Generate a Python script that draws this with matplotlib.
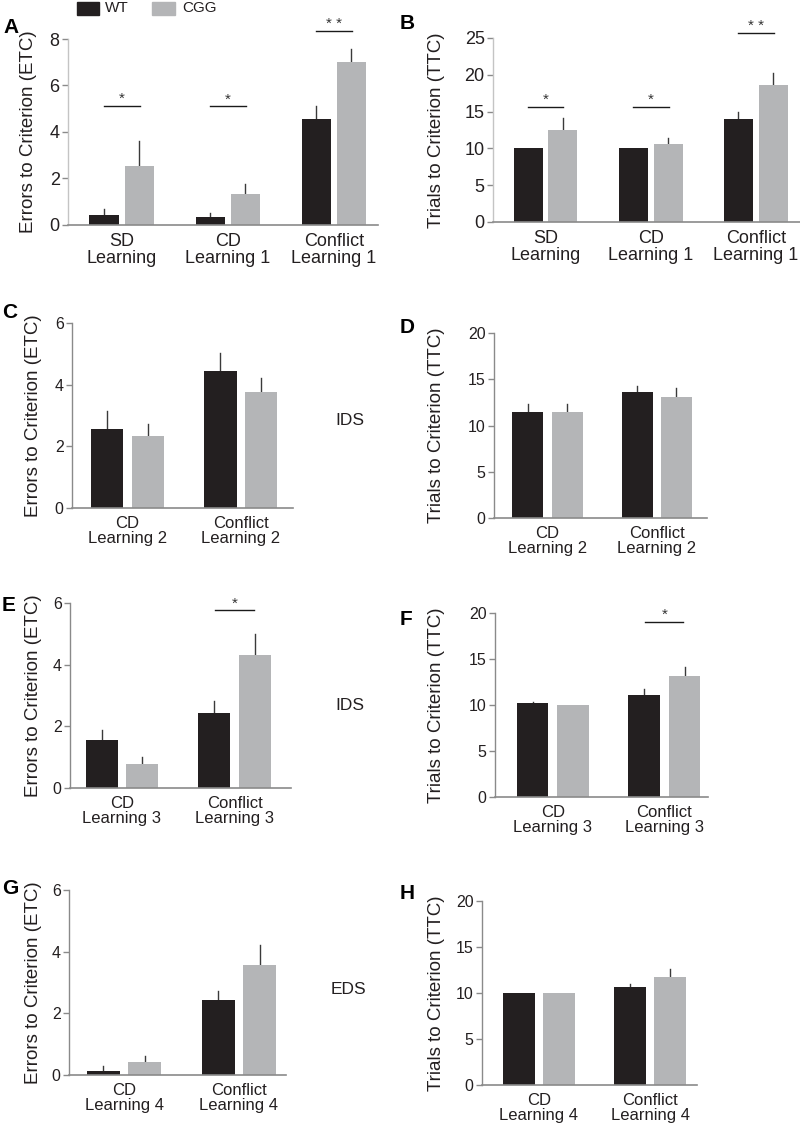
import matplotlib
matplotlib.use("Agg")
import matplotlib.pyplot as plt
import numpy as np
from matplotlib.patches import Rectangle

plt.rcParams["font.family"] = ["Liberation Sans", "DejaVu Sans"]

WT_COLOR = "#231f20"
CGG_COLOR = "#b4b5b7"
AXIS_COLOR = "#8a8a8a"
TEXT_COLOR = "#231f20"

# --- data ------------------------------------------------------------------
cats_ab = ["SD\nLearning", "CD\nLearning 1", "Conflict\nLearning 1"]
cats_cd = ["CD\nLearning 2", "Conflict\nLearning 2"]
cats_ef = ["CD\nLearning 3", "Conflict\nLearning 3"]
cats_gh = ["CD\nLearning 4", "Conflict\nLearning 4"]

a_wt = [0.43, 0.33, 4.55]
a_wt_err = [0.25, 0.17, 0.55]
a_cgg = [2.54, 1.34, 7.0]
a_cgg_err = [1.06, 0.43, 0.57]

b_wt = [10.0, 10.0, 14.0]
b_wt_err = [0.0, 0.0, 1.0]
b_cgg = [12.5, 10.6, 18.6]
b_cgg_err = [1.6, 0.8, 1.7]

c_wt = [2.55, 4.45]
c_wt_err = [0.61, 0.58]
c_cgg = [2.34, 3.77]
c_cgg_err = [0.39, 0.45]

d_wt = [11.5, 13.6]
d_wt_err = [0.86, 0.7]
d_cgg = [11.5, 13.08]
d_cgg_err = [0.86, 1.0]

e_wt = [1.55, 2.44]
e_wt_err = [0.34, 0.38]
e_cgg = [0.77, 4.32]
e_cgg_err = [0.23, 0.67]

f_wt = [10.18, 11.08]
f_wt_err = [0.18, 0.62]
f_cgg = [10.0, 13.14]
f_cgg_err = [0.0, 1.0]

g_wt = [0.14, 2.42]
g_wt_err = [0.14, 0.32]
g_cgg = [0.42, 3.57]
g_cgg_err = [0.21, 0.66]

h_wt = [10.0, 10.6]
h_wt_err = [0.0, 0.37]
h_cgg = [10.0, 11.78]
h_cgg_err = [0.0, 0.8]

# (group index, label, y of the bar)
a_sig = [(0, "*", 5.13), (1, "*", 5.1), (2, "* *", 8.36)]
b_sig = [(0, "*", 15.66), (1, "*", 15.6), (2, "* *", 25.7)]
e_sig = [(1, "*", 5.76)]
f_sig = [(1, "*", 19.06)]

ETC = "Errors to Criterion (ETC)"
TTC = "Trials to Criterion (TTC)"

W, H = 800, 1131
fig = plt.figure(figsize=(W / 100, H / 100), dpi=100)


def px_axes(left, top, right, bottom):
    return fig.add_axes([left / W, 1 - bottom / H, (right - left) / W, (bottom - top) / H])


def panel(box, cats, wt, wt_err, cgg, cgg_err, ymax, yticks, ylabel, label_px,
          letter, letter_xy, sig=(), xlim=(-0.5, 1.45), big=False):
    ax = px_axes(*box)
    x = np.arange(len(cats))
    bw = 0.275 if big else 0.285
    off = 0.165 if big else 0.18
    ax.bar(x - off, wt, bw, color=WT_COLOR, zorder=2)
    ax.bar(x + off, cgg, bw, color=CGG_COLOR, zorder=2)
    for xs, vals, errs in ((x - off, wt, wt_err), (x + off, cgg, cgg_err)):
        for xi, v, e in zip(xs, vals, errs):
            if e > 0:
                ax.plot([xi, xi], [v, v + e], color="#3a3a3a", lw=1.0, zorder=1)
    ax.set_xlim(*xlim)
    ax.set_ylim(0, ymax)
    ax.set_yticks(yticks)
    ax.set_xticks(x)
    fs_tick = 13 if big else 11.5
    fs_cat = 13 if big else 12
    ax.set_xticklabels(cats, fontsize=fs_cat, color=TEXT_COLOR, linespacing=1.0)
    ax.tick_params(axis="x", length=0, pad=6)
    ax.tick_params(axis="y", direction="out", length=4, width=1, color=AXIS_COLOR,
                   labelsize=fs_tick, labelcolor=TEXT_COLOR, pad=2)
    for s in ("top", "right"):
        ax.spines[s].set_visible(False)
    ax.spines["left"].set_color("#c4c4c4" if big else AXIS_COLOR)
    ax.spines["left"].set_linewidth(1.0)
    ax.spines["bottom"].set_color(AXIS_COLOR)
    ax.spines["bottom"].set_linewidth(1.2)
    ax.set_ylabel(ylabel, fontsize=13.5, color=TEXT_COLOR)
    ax.yaxis.set_label_coords((label_px - box[0]) / (box[2] - box[0]), 0.5)
    for gi, txt, yv in sig:
        ax.plot([gi - 0.17, gi + 0.17], [yv, yv], color="#1a1a1a", lw=1.0, clip_on=False)
        ax.annotate(txt, (gi, yv), xytext=(0, 0), textcoords="offset points",
                    ha="center", va="bottom", fontsize=11, color="#333333",
                    annotation_clip=False)
    fig.text(letter_xy[0] / W, 1 - letter_xy[1] / H, letter, fontsize=15,
             fontweight="bold", ha="left", va="top", color="black")
    return ax


panel((68, 39, 378, 225), cats_ab, a_wt, a_wt_err, a_cgg, a_cgg_err, 8,
      [0, 2, 4, 6, 8], ETC, 37, "A", (3, 18), a_sig, xlim=(-0.505, 2.415),
      big=True)
panel((493, 38, 800, 222), cats_ab, b_wt, b_wt_err, b_cgg, b_cgg_err, 25,
      [0, 5, 10, 15, 20, 25], TTC, 445, "B", (400, 14), b_sig,
      xlim=(-0.5, 2.42), big=True)
panel((72, 323, 293, 508), cats_cd, c_wt, c_wt_err, c_cgg, c_cgg_err, 6,
      [0, 2, 4, 6], ETC, 42, "C", (2, 303), xlim=(-0.49, 1.46))
panel((494, 333, 707, 518), cats_cd, d_wt, d_wt_err, d_cgg, d_cgg_err, 20,
      [0, 5, 10, 15, 20], TTC, 445, "D", (400, 318), xlim=(-0.49, 1.46))
panel((70, 603, 291, 788), cats_ef, e_wt, e_wt_err, e_cgg, e_cgg_err, 6,
      [0, 2, 4, 6], ETC, 42, "E", (2, 596), e_sig, xlim=(-0.46, 1.5))
panel((495, 613, 708, 797), cats_ef, f_wt, f_wt_err, f_cgg, f_cgg_err, 20,
      [0, 5, 10, 15, 20], TTC, 445, "F", (400, 610), f_sig, xlim=(-0.516, 1.39))
panel((69, 890, 286, 1075), cats_gh, g_wt, g_wt_err, g_cgg, g_cgg_err, 6,
      [0, 2, 4, 6], ETC, 42, "G", (2, 879), xlim=(-0.48, 1.41))
panel((482, 901, 697, 1085), cats_gh, h_wt, h_wt_err, h_cgg, h_cgg_err, 20,
      [0, 5, 10, 15, 20], TTC, 445, "H", (400, 884), xlim=(-0.51, 1.42))

# side labels for the shift type
fig.text(350 / W, 1 - 420 / H, "IDS", fontsize=12.5, ha="center", va="center", color=TEXT_COLOR)
fig.text(350 / W, 1 - 706 / H, "IDS", fontsize=12.5, ha="center", va="center", color=TEXT_COLOR)
fig.text(348 / W, 1 - 990 / H, "EDS", fontsize=12.5, ha="center", va="center", color=TEXT_COLOR)

# legend
fig.patches.append(Rectangle((77 / W, 1 - 15 / H), 22 / W, 13 / H, color=WT_COLOR,
                             transform=fig.transFigure, figure=fig))
fig.patches.append(Rectangle((152 / W, 1 - 15 / H), 23 / W, 13 / H, color=CGG_COLOR,
                             transform=fig.transFigure, figure=fig))
fig.text(105 / W, 1 - 8.5 / H, "WT", fontsize=11, va="center", color=TEXT_COLOR)
fig.text(182 / W, 1 - 8.5 / H, "CGG", fontsize=11, va="center", color=TEXT_COLOR)

fig.savefig("out.png", dpi=100)
